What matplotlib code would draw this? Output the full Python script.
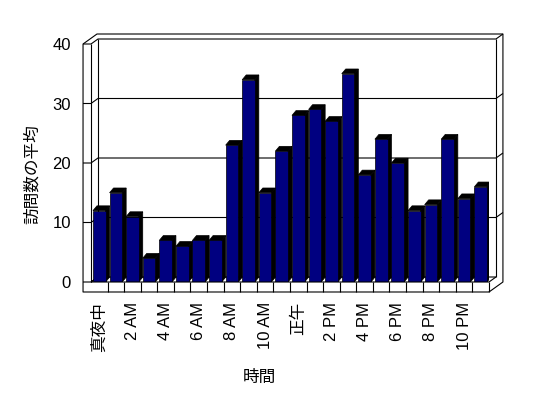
import matplotlib
matplotlib.use("Agg")
import matplotlib.pyplot as plt
from matplotlib.patches import Polygon

plt.rcParams["font.family"] = ["Liberation Sans", "Noto Sans CJK JP"]

# average visits per hour of day
hours = list(range(24))
visits = [12, 15, 11, 4, 7, 6, 7, 7, 23, 34, 15, 22,
          28, 29, 27, 35, 18, 24, 20, 12, 13, 24, 14, 16]
tick_hours = hours[::2]
tick_labels = ["真夜中", "2 AM", "4 AM", "6 AM", "8 AM", "10 AM",
               "正午", "2 PM", "4 PM", "6 PM", "8 PM", "10 PM"]
y_ticks = [0, 10, 20, 30, 40]

# pseudo-3D geometry (data units)
X0, X1 = -0.5, 23.5
DX, DY = 0.42, 0.84       # front plane -> back wall
WALL = 0.48               # left wall thickness
FLOOR = 1.68              # floor thickness
BW, BDX, BDY = 0.76, 0.24, 0.8

fig = plt.figure(figsize=(5.48, 3.98), dpi=100)
ax = fig.add_axes([91 / 548, 116 / 398, 398 / 548, 238 / 398])
ax.set_xlim(X0, X1)
ax.set_ylim(0, 40)
for s in ax.spines.values():
    s.set_visible(False)
ax.patch.set_alpha(0)

lw = 0.8
def line(pts, z=1):
    xs, ys = zip(*pts)
    ax.plot(xs, ys, color="black", lw=lw, zorder=z, clip_on=False,
            solid_capstyle="butt")

# outer silhouette
line([(X1, -FLOOR), (X1 + 2 * DX, -FLOOR + 2 * DY), (X1 + 2 * DX, 40 + 2 * DY),
      (X0 - WALL + 2 * DX, 40 + 2 * DY), (X0 - WALL, 40), (X0 - WALL, -FLOOR),
      (X1, -FLOOR)], z=4)

# walls
line([(X0, 40), (X0, 0)], z=4)
line([(X0 + DX, 40 + DY), (X0 + DX, DY)])
line([(X1 + DX, 40 + DY), (X1 + DX, DY)])
for v in y_ticks:
    pts = [(X0 - WALL, v), (X0, v), (X0 + DX, v + DY), (X1 + DX, v + DY)]
    if v > 0:
        pts.append((X1 + 2 * DX, v + 2 * DY))
    line(pts)

# floor
line([(X0, 0), (X1, 0), (X1 + DX, DY)], z=4)
line([(X0, 0), (X0 + DX, DY)])
line([(X1, 0), (X1, -FLOOR)], z=4)
for k in hours[:-1]:
    line([(k + 0.5, 0), (k + 0.5, -FLOOR)], z=4)

# bars
ax.bar(hours, visits, width=BW, color="#000080", edgecolor="black",
       linewidth=0.5, zorder=3)
for k, v in zip(hours, visits):
    l, r = k - BW / 2, k + BW / 2
    top = Polygon([(l, v), (r, v), (r + BDX, v + BDY), (l + BDX, v + BDY)],
                  closed=True, facecolor="black", edgecolor="black", lw=0.5, zorder=2)
    side = Polygon([(r, 0), (r, v), (r + BDX, v + BDY), (r + BDX, BDY)],
                   closed=True, facecolor="black", edgecolor="black", lw=0.5, zorder=2)
    ax.add_patch(top)
    ax.add_patch(side)

ax.set_xticks(tick_hours)
ax.set_xticklabels(tick_labels, rotation=90, fontsize=12)
ax.set_yticks(y_ticks)
ax.set_yticklabels([str(t) for t in y_ticks], fontsize=12)
ax.tick_params(axis="x", length=0, pad=14.4)
ax.tick_params(axis="y", length=0, pad=14.4)

fig.text(259 / 548, 1 - 377 / 398, "時間", fontsize=12, ha="center", va="center")
fig.text(32 / 548, 1 - 174 / 398, "訪問数の平均", fontsize=12, rotation=90,
         ha="center", va="center")

fig.savefig("out.png", dpi=100)
